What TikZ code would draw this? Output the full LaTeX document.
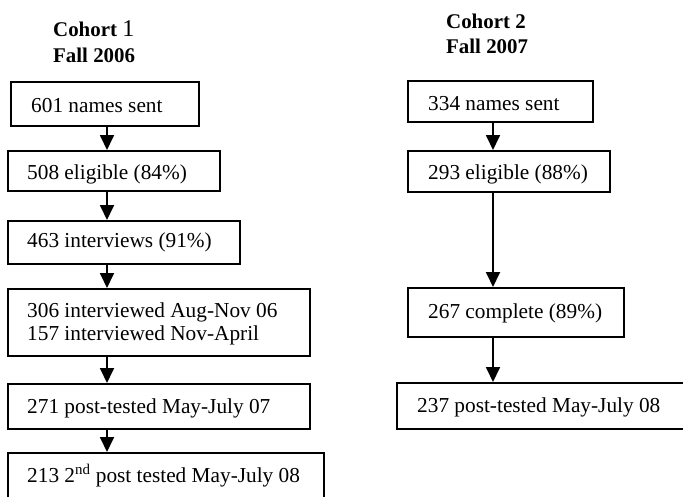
\documentclass[tikz,border=0pt]{standalone}
\usepackage{fontspec}
\setmainfont{Liberation Serif}
\usetikzlibrary{arrows.meta}
\begin{document}
\begin{tikzpicture}[x=1pt,y=-1pt,
  box/.style={draw, line width=1.7pt, inner sep=0pt, anchor=north west},
  txt/.style={anchor=base west, inner sep=0pt, font=\fontsize{21.3}{23}\selectfont},
  ttl/.style={anchor=base west, inner sep=0pt, font=\fontsize{20.9}{23}\selectfont\bfseries},
  arr/.style={line width=1.8pt, -{Triangle[width=14pt,length=15pt]}}]
\path[use as bounding box, clip] (0,0) rectangle (683,496);
% titles
\node[ttl] (c1) at (53,36) {Cohort {\fontsize{24}{24}\selectfont\mdseries 1}};
\node[ttl] (f1) at (53,62) {Fall 2006};
\node[ttl] (c2) at (446,28) {Cohort 2};
\node[ttl] (f2) at (446,53) {Fall 2007};
% left boxes
\node[box, minimum width=188pt, minimum height=44pt] (a1) at (10,81) {};
\node[box, minimum width=212pt, minimum height=40pt] (a2) at (7,150) {};
\node[box, minimum width=232pt, minimum height=43pt] (a3) at (7,220) {};
\node[box, minimum width=302pt, minimum height=67pt] (a4) at (7,288) {};
\node[box, minimum width=302pt, minimum height=45pt] (a5) at (7,383) {};
\node[box, minimum width=316pt, minimum height=70pt] (a6) at (7,452) {};
% left texts
\node[txt] (t1) at (31,112) {601 names sent};
\node[txt] (t2) at (27,179) {508 eligible (84\%)};
\node[txt] (t3) at (27,247) {463 interviews (91\%)};
\node[txt] (t4a) at (27,317) {306 interviewed Aug-Nov 06};
\node[txt] (t4b) at (27,340) {157 interviewed Nov-April};
\node[txt] (t5) at (27,413) {271 post-tested May-July 07};
\node[txt] (t6) at (27,482) {213 2\textsuperscript{nd} post tested May-July 08};
% right boxes
\node[box, minimum width=185pt, minimum height=41pt] (b1) at (407,80) {};
\node[box, minimum width=202pt, minimum height=41pt] (b2) at (407,150) {};
\node[box, minimum width=216pt, minimum height=49pt] (b3) at (407,287) {};
\node[box, minimum width=320pt, minimum height=46pt] (b4) at (396,382) {};
% right texts
\node[txt] (u1) at (428,110) {334 names sent};
\node[txt] (u2) at (428,179) {293 eligible (88\%)};
\node[txt] (u3) at (428,318) {267 complete (89\%)};
\node[txt] (u4) at (417,412) {237 post-tested May-July 08};
% arrow columns
\coordinate (ax) at (107,0);
\coordinate (bx) at (493,0);
\draw[arr] (a1.south -| ax) -- (a2.north -| ax);
\draw[arr] (a2.south -| ax) -- (a3.north -| ax);
\draw[arr] (a3.south -| ax) -- (a4.north -| ax);
\draw[arr] (a4.south -| ax) -- (a5.north -| ax);
\draw[arr] (a5.south -| ax) -- (a6.north -| ax);
\draw[arr] (b1.south -| bx) -- (b2.north -| bx);
\draw[arr] (b2.south -| bx) -- (b3.north -| bx);
\draw[arr] (b3.south -| bx) -- (b4.north -| bx);
\end{tikzpicture}
\end{document}
